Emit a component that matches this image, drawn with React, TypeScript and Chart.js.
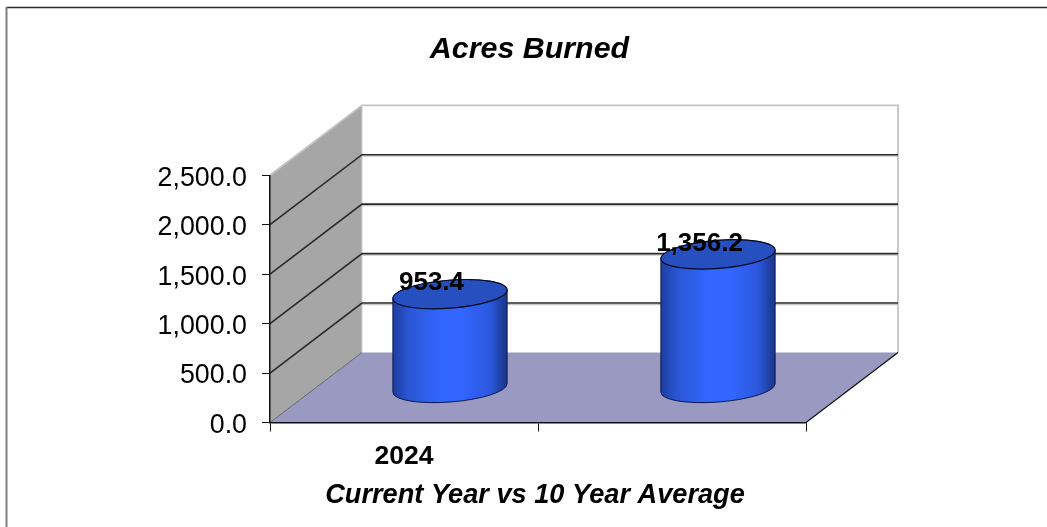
import React, { useEffect, useRef } from "react";
import { Chart, registerables } from "chart.js";

Chart.register(...registerables);

const categories = ["2024", ""];
const acresBurned = [953.4, 1356.2];
const yMax = 2500;
const yStep = 500;
const titleText = "Acres Burned";
const xTitleText = "Current Year vs 10 Year Average";

const FONT = "'Liberation Sans', Arial, sans-serif";
const DEPTH_X = 92;
const DEPTH_Y = 70;
const fmt = (v: number) =>
  v.toLocaleString("en-US", { minimumFractionDigits: 1, maximumFractionDigits: 1 });

const poly = (ctx: CanvasRenderingContext2D, pts: number[][], fill: string) => {
  ctx.beginPath();
  pts.forEach((p, i) => (i ? ctx.lineTo(p[0], p[1]) : ctx.moveTo(p[0], p[1])));
  ctx.closePath();
  ctx.fillStyle = fill;
  ctx.fill();
};
const line = (ctx: CanvasRenderingContext2D, pts: number[][], color: string, w = 1) => {
  ctx.beginPath();
  pts.forEach((p, i) => (i ? ctx.lineTo(p[0], p[1]) : ctx.moveTo(p[0], p[1])));
  ctx.strokeStyle = color;
  ctx.lineWidth = w;
  ctx.stroke();
};

const framePlugin = {
  id: "frame3d",
  afterLayout(chart: any) {
    // The reference titles are off-centre relative to their boxes
    if (chart.titleBlock) {
      chart.titleBlock.left += 126.5;
      chart.titleBlock.right += 126.5;
    }
    const sx = chart.scales.x;
    const orig = sx.drawTitle.bind(sx);
    sx.drawTitle = () => {
      chart.ctx.save();
      chart.ctx.translate(-3, 0);
      orig();
      chart.ctx.restore();
    };
  },
  beforeDraw(chart: any) {
    const { ctx, chartArea: a, scales } = chart;
    const y = scales.y;
    const l = a.left, r = a.right, t = y.getPixelForValue(yMax), b = y.getPixelForValue(0);
    ctx.save();
    // page frame
    line(ctx, [[6, 7.5], [chart.width, 7.5]], "#2a2a2a", 1.5);
    line(ctx, [[6.5, 7], [6.5, chart.height]], "#808080", 2);
    // walls
    poly(ctx, [[l + DEPTH_X, t - DEPTH_Y], [r + DEPTH_X, t - DEPTH_Y], [r + DEPTH_X, b - DEPTH_Y], [l + DEPTH_X, b - DEPTH_Y]], "#ffffff");
    poly(ctx, [[l, b], [l, t], [l + DEPTH_X, t - DEPTH_Y], [l + DEPTH_X, b - DEPTH_Y]], "#a6a6a6");
    poly(ctx, [[l, b], [r, b], [r + DEPTH_X, b - DEPTH_Y], [l + DEPTH_X, b - DEPTH_Y]], "#9999c2");
    // wall edges
    line(ctx, [[l, t], [l + DEPTH_X, t - DEPTH_Y], [r + DEPTH_X, t - DEPTH_Y], [r + DEPTH_X, b - DEPTH_Y]], "#c4c4c4", 1.8);
    line(ctx, [[l + DEPTH_X, t - DEPTH_Y], [l + DEPTH_X, b - DEPTH_Y]], "#d0d0d0", 1);
    line(ctx, [[l, b], [l + DEPTH_X, b - DEPTH_Y]], "#666666", 1);
    line(ctx, [[r, b], [r + DEPTH_X, b - DEPTH_Y]], "#111111", 1.2);
    // grid lines from the axis ticks
    y.ticks.forEach((tk: any) => {
      if (tk.value <= 0 || tk.value >= yMax) return;
      const py = y.getPixelForValue(tk.value);
      line(ctx, [[l + DEPTH_X, py - DEPTH_Y + 1.5], [r + DEPTH_X, py - DEPTH_Y + 1.5]], "#c8c8c8", 1.2);
      line(ctx, [[l, py], [l + DEPTH_X, py - DEPTH_Y], [r + DEPTH_X, py - DEPTH_Y]], "#2a2a2a", 1.6);
    });
    ctx.restore();
  },
  afterDatasetsDraw(chart: any) {
    const { ctx } = chart;
    const meta = chart.getDatasetMeta(0);
    const phi = (4.5 * Math.PI) / 180;
    meta.data.forEach((bar: any, i: number) => {
      const cx = bar.x + DEPTH_X / 2;
      const topY = bar.y - 34;
      const baseY = bar.base - 34;
      const rx = bar.width / 2;
      const ry = 14;
      const t0 = Math.atan((ry / rx) * Math.tan(phi));
      const dx = rx * Math.cos(t0) * Math.cos(phi) + ry * Math.sin(t0) * Math.sin(phi);
      const dy = -rx * Math.cos(t0) * Math.sin(phi) + ry * Math.sin(t0) * Math.cos(phi);
      ctx.save();
      const g = ctx.createLinearGradient(cx - dx, 0, cx + dx, 0);
      g.addColorStop(0, "#1c3e9e");
      g.addColorStop(0.14, "#2a56d4");
      g.addColorStop(0.42, "#3366ff");
      g.addColorStop(0.6, "#3366ff");
      g.addColorStop(0.85, "#2b58de");
      g.addColorStop(1, "#1a3585");
      ctx.beginPath();
      ctx.moveTo(cx - dx, topY - dy);
      ctx.lineTo(cx - dx, baseY - dy);
      ctx.ellipse(cx, baseY, rx, ry, -phi, t0 + Math.PI, t0, true);
      ctx.lineTo(cx + dx, topY + dy);
      ctx.ellipse(cx, topY, rx, ry, -phi, t0, t0 + Math.PI, true);
      ctx.closePath();
      ctx.fillStyle = g;
      ctx.fill();
      ctx.strokeStyle = "#0b1a50";
      ctx.lineWidth = 1;
      ctx.stroke();
      ctx.beginPath();
      ctx.ellipse(cx, topY, rx, ry, -phi, 0, Math.PI * 2);
      ctx.fillStyle = "#264fc0";
      ctx.fill();
      ctx.strokeStyle = "#050a20";
      ctx.lineWidth = 1.2;
      ctx.stroke();
      // value label
      ctx.font = `bold 26px ${FONT}`;
      ctx.fillStyle = "#000000";
      ctx.textAlign = "center";
      ctx.textBaseline = "middle";
      ctx.fillText(fmt(acresBurned[i]), cx - 18.5, topY - 11);
      ctx.restore();
    });
  },
};

export default function App() {
  const ref = useRef<HTMLCanvasElement>(null);
  useEffect(() => {
    const chart = new Chart(ref.current as HTMLCanvasElement, {
      type: "bar",
      data: {
        labels: categories,
        datasets: [
          {
            data: acresBurned,
            backgroundColor: "transparent",
            borderWidth: 0,
            categoryPercentage: 1,
            barPercentage: 0.4275,
          },
        ],
      },
      options: {
        responsive: false,
        animation: false,
        layout: { padding: { right: 241 } },
        plugins: {
          legend: { display: false },
          tooltip: { enabled: false },
          title: {
            display: true,
            text: titleText,
            color: "#000000",
            font: { family: FONT, size: 30.4, weight: "bold", style: "italic" },
            padding: { top: 31, bottom: 107.8 },
          },
        },
        scales: {
          x: {
            afterFit: (s: any) => {
              s.height = 104.5;
            },
            border: { color: "#111111", width: 1.5 },
            grid: { drawOnChartArea: false, color: "#111111", tickLength: 9 },
            ticks: {
              color: "#000000",
              font: { family: FONT, size: 26.5, weight: "bold" },
              padding: 9,
              maxRotation: 0,
              autoSkip: false,
            },
            title: {
              display: true,
              text: xTitleText,
              color: "#000000",
              font: { family: FONT, size: 27.2, weight: "bold", style: "italic" },
              padding: { top: 0, bottom: 15 },
            },
          },
          y: {
            min: 0,
            max: yMax,
            afterFit: (s: any) => {
              s.width = 270;
            },
            border: { color: "#111111", width: 1.5 },
            grid: { drawOnChartArea: false, color: "#111111", tickLength: 8 },
            ticks: {
              stepSize: yStep,
              color: "#000000",
              font: { family: FONT, size: 26.8 },
              padding: 15,
              labelOffset: 3,
              callback: (v: any) => fmt(Number(v)),
            },
          },
        },
      },
      plugins: [framePlugin],
    } as any);
    return () => chart.destroy();
  }, []);
  return (
    <canvas
      ref={ref}
      width={1047}
      height={527}
      style={{ position: "fixed", left: 0, top: 0, display: "block", width: 1047, height: 527 }}
    />
  );
}
